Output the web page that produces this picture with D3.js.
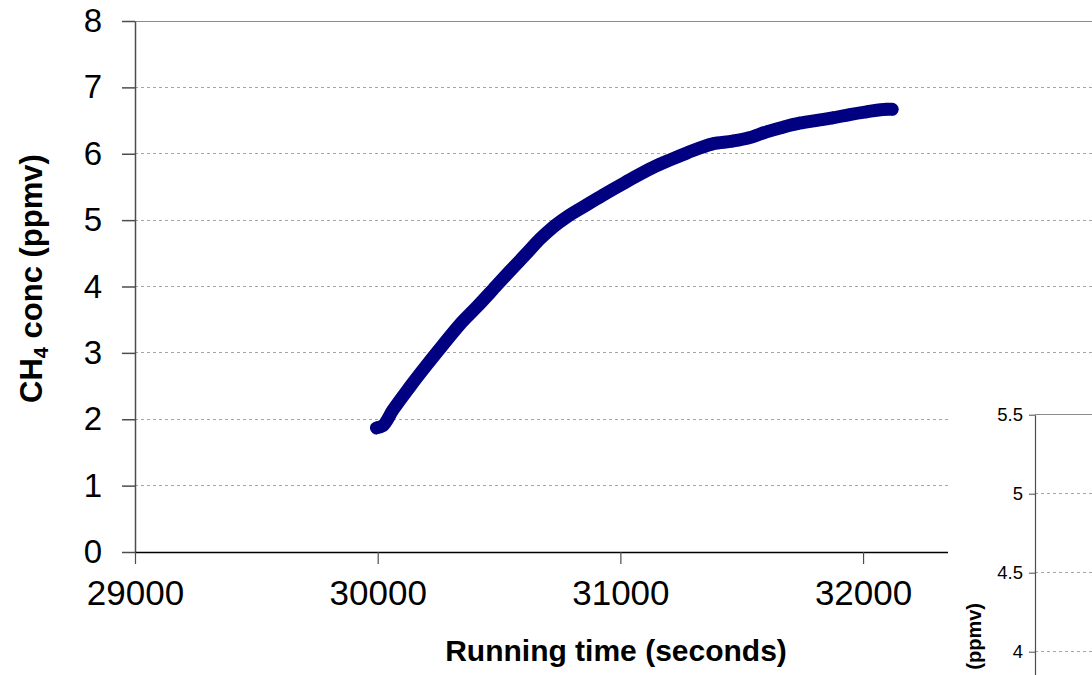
<!DOCTYPE html>
<html>
<head>
<meta charset="utf-8">
<script src="https://cdn.jsdelivr.net/npm/d3@7"></script>
<style>
  html, body { margin: 0; padding: 0; background: #fff; }
  svg { display: block; font-family: Arial, "Liberation Sans", sans-serif; }
</style>
</head>
<body>
<svg id="chart" width="1092" height="675"></svg>
<script>
// ---- data ----
const runningTime = [29995, 30020, 30063, 30133, 30203, 30269, 30339, 30408, 30474, 30544, 30614, 30670, 30721, 30780, 30861, 30930, 30997, 31065, 31133, 31200, 31273, 31380, 31462, 31530, 31602, 31670, 31738, 31805, 31874, 31945, 32014, 32097, 32120];
const ch4Conc     = [1.87, 1.90, 2.14, 2.49, 2.82, 3.12, 3.43, 3.69, 3.95, 4.23, 4.50, 4.72, 4.89, 5.05, 5.23, 5.38, 5.52, 5.66, 5.79, 5.90, 6.01, 6.15, 6.19, 6.24, 6.33, 6.40, 6.46, 6.50, 6.54, 6.59, 6.63, 6.67, 6.67];
const xTickValues = [29000, 30000, 31000, 32000];
const xDomain = [29000, 32350];
const yTickValues = [0, 1, 2, 3, 4, 5, 6, 7, 8];
const yDomain = [0, 8];
const insetTickValues = [4, 4.5, 5, 5.5];
const insetDomain = [3.5, 5.5];

const svg = d3.select("#chart");
const W = 1092, H = 675;

// ---- main chart ----
const x = d3.scaleLinear().domain(xDomain).range([135, 948]);
const y = d3.scaleLinear().domain(yDomain).range([552, 21]);
const gridRight = W;

// gridlines
svg.append("g").selectAll("line")
  .data(yTickValues.filter(v => v > 0))
  .join("line")
  .attr("x1", x(xDomain[0])).attr("x2", gridRight)
  .attr("y1", d => y(d)).attr("y2", d => y(d))
  .attr("stroke", d => d === yDomain[1] ? "#8c8c8c" : "#a6a6a6")
  .attr("stroke-width", 1)
  .attr("stroke-dasharray", d => d === yDomain[1] ? null : "3,3")
  .attr("shape-rendering", "crispEdges");

// y axis
const yAxis = svg.append("g")
  .attr("transform", `translate(${x(xDomain[0])},0)`)
  .call(d3.axisLeft(y).tickValues(yTickValues).tickSize(13).tickSizeOuter(0).tickPadding(20).tickFormat(d3.format("d")));
yAxis.select(".domain").attr("stroke", "#4d4d4d").attr("stroke-width", 1.5);
yAxis.selectAll(".tick line").attr("stroke", "#4d4d4d").attr("stroke-width", 1.5);
yAxis.selectAll(".tick text").attr("font-size", 33).attr("fill", "#000")
  .attr("font-family", "Arial, 'Liberation Sans', sans-serif");

// x axis
const xAxis = svg.append("g")
  .attr("transform", `translate(0,${y(0)})`)
  .call(d3.axisBottom(x).tickValues(xTickValues).tickSize(12).tickSizeOuter(0).tickPadding(16).tickFormat(d3.format("d")));
xAxis.select(".domain").attr("stroke", "#000").attr("stroke-width", 1.5);
xAxis.selectAll(".tick line").attr("stroke", "#4d4d4d").attr("stroke-width", 1.2);
xAxis.selectAll(".tick text").attr("font-size", 35).attr("fill", "#000")
  .attr("font-family", "Arial, 'Liberation Sans', sans-serif");

// axis titles
svg.append("text")
  .attr("x", 616).attr("y", 661)
  .attr("text-anchor", "middle")
  .attr("font-size", 30).attr("font-weight", "bold")
  .text("Running time (seconds)");

const yTitle = svg.append("text")
  .attr("transform", "translate(42,403) rotate(-90)")
  .attr("text-anchor", "start")
  .attr("font-size", 31).attr("font-weight", "bold");
yTitle.append("tspan").text("CH");
yTitle.append("tspan").attr("font-size", 20).attr("dy", 6).text("4");
yTitle.append("tspan").attr("dy", -6).text(" conc (ppmv)");

// series
const pts = runningTime.map((t, i) => [t, ch4Conc[i]]);
const navy = "#000080";
svg.append("path")
  .datum(pts)
  .attr("d", d3.line().x(d => x(d[0])).y(d => y(d[1])).curve(d3.curveMonotoneX))
  .attr("fill", "none")
  .attr("stroke", navy)
  .attr("stroke-width", 13)
  .attr("stroke-linejoin", "round")
  .attr("stroke-linecap", "round");
svg.append("g").selectAll("path")
  .data(pts)
  .join("path")
  .attr("d", d3.symbol(d3.symbolSquare, 88))
  .attr("transform", d => `translate(${x(d[0])},${y(d[1])}) rotate(45)`)
  .attr("fill", navy);

// ---- inset chart (partially visible at bottom right) ----
const insetLeft = 948, insetTop = 398;
svg.append("rect")
  .attr("x", insetLeft).attr("y", insetTop)
  .attr("width", W - insetLeft).attr("height", H - insetTop)
  .attr("fill", "#fff");

const yi = d3.scaleLinear().domain(insetDomain).range([730.7, 414.7]);
const insetAxisX = 1035;

svg.append("g").selectAll("line")
  .data(insetTickValues)
  .join("line")
  .attr("x1", insetAxisX).attr("x2", W)
  .attr("y1", d => yi(d)).attr("y2", d => yi(d))
  .attr("stroke", d => d === insetDomain[1] ? "#8c8c8c" : "#a6a6a6")
  .attr("stroke-dasharray", d => d === insetDomain[1] ? null : "3,3")
  .attr("shape-rendering", "crispEdges");

const iAxis = svg.append("g")
  .attr("transform", `translate(${insetAxisX},0)`)
  .call(d3.axisLeft(yi).tickValues(insetTickValues).tickSize(6).tickSizeOuter(0).tickPadding(6).tickFormat(d => d));
iAxis.select(".domain").attr("stroke", "#4d4d4d").attr("stroke-width", 1.2);
iAxis.selectAll(".tick line").attr("stroke", "#4d4d4d");
iAxis.selectAll(".tick text").attr("font-size", 18.5).attr("fill", "#000")
  .attr("font-family", "Arial, 'Liberation Sans', sans-serif");

svg.append("text")
  .attr("transform", "translate(981,603) rotate(-90)")
  .attr("text-anchor", "end")
  .attr("font-size", 20).attr("font-weight", "bold")
  .text("(ppmv)");
</script>
</body>
</html>
